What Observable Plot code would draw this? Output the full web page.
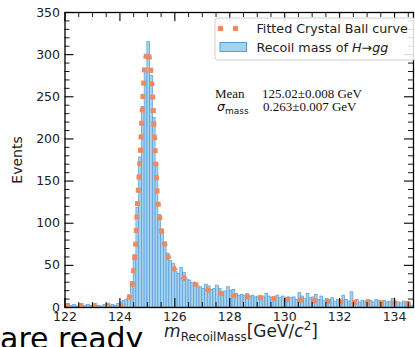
<!DOCTYPE html>
<html><head><meta charset="utf-8">
<script src="https://cdn.jsdelivr.net/npm/d3@7"></script>
<script src="https://cdn.jsdelivr.net/npm/@observablehq/plot@0.6"></script>
<style>html,body{margin:0;padding:0;overflow:hidden;background:#fff} svg{display:block}</style>
</head><body><div id="chart"></div>
<script>
// Histogram: bins of 0.1 GeV starting at 122.0 GeV
const binStart = 122.0;
const binWidth = 0.1;
const counts = [
  2,1,2,3,1,2,1,2,3,2, 1,2,2,1,3,2,2,3,2,4,
  6,8,9,14,30,62,118,178,238,280,
  315,275,225,170,110,88,74,64,55,52,
  42,40,47,41,33,32,29,27,25,24,
  22,27,25,21,22,26,22,18,19,24,
  20,21,16,14,15,14,16,13,14,12,
  13,11,12,16,13,11,12,14,11,13,
  10,12,11,12,9,17,13,10,16,11,
  12,15,9,13,8,10,9,11,7,9,
  8,14,9,7,18,8,9,6,8,7,
  9,8,6,9,8,7,8,6,7,10,
  7,6,5,7,6,4,2
];
// Fitted Crystal Ball curve
const curveMass   = [122.0,122.5,123.0,123.5,123.9,124.1,124.25,124.35,124.45,124.5,124.54,124.58,124.62,124.66,124.70,124.75,124.80,124.85,124.90,124.95,125.0,125.05,125.10,125.15,125.20,125.25,125.30,125.35,125.40,125.45,125.5,125.6,125.76,125.98,126.35,126.78,127.25,127.73,128.24,128.72,129.21,129.72,130.2,130.7,131.19,131.65,132.19,132.67,133.17,133.65,134.16,134.7];
const curveEvents = [2.5,2.5,2.5,2.4,2.2,2.0,5,13,27,44,60,80,110,135,157,189,226,258,284,298,305,300,288,270,246,206,174,140,121,106,94,79,60,46,34.6,27,20.4,16.5,13.5,12.5,11.5,10.3,9.5,8.5,7.9,7.1,6.4,5.9,5.6,5.3,5.0,4.7];

const xMajorTicks = [122,124,126,128,130,132,134];
const xMinorTicks = [122.5,123,123.5,124.5,125,125.5,126.5,127,127.5,128.5,129,129.5,130.5,131,131.5,132.5,133,133.5,134.5];
const yMajorTicks = [0,50,100,150,200,250,300,350];
const yMinorTicks = [10,20,30,40,60,70,80,90,110,120,130,140,160,170,180,190,210,220,230,240,260,270,280,290,310,320,330,340];

const legendLabels = ["Fitted Crystal Ball curve", "Recoil mass of "];
const statNames = ["Mean", "mass"];
const statValues = ["125.02±0.008 GeV", "0.263±0.007 GeV"];

const xMin = 122, xMax = 134.69, yMax = 350;
const W = 415, H = 347, mL = 64.5, mR = 2, mT = 12, mB = 40;
const kx = (xMax - xMin) / (W - mL - mR);
const ky = yMax / (H - mT - mB);

const bins = counts.map((n, i) => ({x1: binStart + i * binWidth, x2: binStart + (i + 1) * binWidth, n}));
const curve = curveMass.map((m, i) => ({m, v: curveEvents[i]}));

const orange = "#ec8a62";
const major = 9, minor = 5;

const chart = Plot.plot({
  width: W, height: H,
  marginLeft: mL, marginRight: mR, marginTop: mT, marginBottom: mB,
  x: {domain: [xMin, xMax]},
  y: {domain: [0, yMax]},
  style: {fontFamily: "DejaVu Sans", fontSize: "12px", color: "black", background: "white"},
  marks: [
    Plot.rectY(bins, {x1: "x1", x2: "x2", y: "n", fill: "#a3d3ef", stroke: "#5b9bd5", strokeWidth: 0.7, clip: true, insetLeft: 0, insetRight: 0}),
    Plot.line(curve, {x: "m", y: "v", stroke: orange, strokeWidth: 5, strokeDasharray: "5,8.4", strokeLinecap: "butt", curve: "monotone-x", clip: true}),
    Plot.frame({stroke: "black", strokeWidth: 1.3}),
    // inward ticks on all four sides
    Plot.ruleX(xMajorTicks, {x: d => d, y1: 0, y2: major * ky, stroke: "black", strokeWidth: 1.1}),
    Plot.ruleX(xMinorTicks, {x: d => d, y1: 0, y2: minor * ky, stroke: "black", strokeWidth: 0.9}),
    Plot.ruleX(xMajorTicks, {x: d => d, y1: yMax, y2: yMax - major * ky, stroke: "black", strokeWidth: 1.1}),
    Plot.ruleX(xMinorTicks, {x: d => d, y1: yMax, y2: yMax - minor * ky, stroke: "black", strokeWidth: 0.9}),
    Plot.ruleY(yMajorTicks, {y: d => d, x1: xMin, x2: xMin + major * kx, stroke: "black", strokeWidth: 1.1}),
    Plot.ruleY(yMinorTicks, {y: d => d, x1: xMin, x2: xMin + minor * kx, stroke: "black", strokeWidth: 0.9}),
    Plot.ruleY(yMajorTicks, {y: d => d, x1: xMax, x2: xMax - major * kx, stroke: "black", strokeWidth: 1.1}),
    Plot.ruleY(yMinorTicks, {y: d => d, x1: xMax, x2: xMax - minor * kx, stroke: "black", strokeWidth: 0.9}),
    Plot.axisX(xMajorTicks, {tickSize: 0, tickPadding: 5, label: null, fontSize: 12.5, fill: "#222"}),
    Plot.axisY(yMajorTicks, {tickSize: 0, tickPadding: 5, label: null, fontSize: 12.5, fill: "#222"})
  ]
});
document.getElementById("chart").appendChild(chart);

const svg = d3.select(chart);
// y label
svg.append("text").attr("transform", "translate(22,160) rotate(-90)")
  .attr("text-anchor", "middle").attr("font-family", "DejaVu Sans").attr("font-size", 14).attr("fill", "#222")
  .text("Events");
// x label
const xl = svg.append("text").attr("x", 241).attr("y", 337).attr("text-anchor", "middle")
  .attr("font-family", "DejaVu Sans").attr("font-size", 17).attr("fill", "#222");
xl.append("tspan").attr("font-style", "italic").text("m");
xl.append("tspan").attr("font-size", 12).attr("dy", 4).text("RecoilMass");
xl.append("tspan").attr("dy", -4).text("[GeV/");
xl.append("tspan").attr("font-style", "italic").text("c");
xl.append("tspan").attr("font-size", 12).attr("dy", -7).text("2");
xl.append("tspan").attr("dy", 7).text("]");
// slide text below
svg.append("text").attr("x", 0).attr("y", 349).attr("text-anchor", "start").attr("font-family", "DejaVu Sans").attr("font-size", 30).attr("fill", "black").text("are ready");

// legend
const lg = svg.append("g").attr("text-anchor", "start");
lg.append("rect").attr("x", 215).attr("y", 18).attr("width", 220).attr("height", 42).attr("rx", 3)
  .attr("fill", "white").attr("fill-opacity", 0.85).attr("stroke", "#d0d0d0").attr("stroke-width", 1);
lg.append("line").attr("x1", 218).attr("x2", 243).attr("y1", 28.5).attr("y2", 28.5)
  .attr("stroke", orange).attr("stroke-width", 5).attr("stroke-dasharray", "5,10");
lg.append("text").attr("x", 256.5).attr("y", 33).attr("font-family", "DejaVu Sans").attr("font-size", 12.7).attr("fill", "#222").text(legendLabels[0]);
lg.append("rect").attr("x", 220).attr("y", 42.5).attr("width", 26.5).attr("height", 9)
  .attr("fill", "#a3d3ef").attr("stroke", "#5b9bd5").attr("stroke-width", 1);
const l2 = lg.append("text").attr("x", 256.5).attr("y", 52).attr("font-family", "DejaVu Sans").attr("font-size", 12.7).attr("fill", "#222");
l2.append("tspan").text(legendLabels[1]);
l2.append("tspan").attr("font-style", "italic").text("H");
l2.append("tspan").text("→");
l2.append("tspan").attr("font-style", "italic").text("gg");

// fit statistics
const st = svg.append("g").attr("text-anchor", "start").attr("font-family", "Liberation Serif").attr("font-size", 13).attr("fill", "#111");
st.append("text").attr("x", 215).attr("y", 98).text(statNames[0]);
st.append("text").attr("x", 262).attr("y", 98).text(statValues[0]);
const s2 = st.append("text").attr("x", 217).attr("y", 110.5);
s2.append("tspan").attr("font-style", "italic").attr("font-family", "DejaVu Sans").attr("font-size", 12.5).text("σ");
s2.append("tspan").attr("font-family", "DejaVu Sans").attr("font-size", 9).attr("dy", 3).text(statNames[1]);
st.append("text").attr("x", 263).attr("y", 110.5).text(statValues[1]);
</script></body></html>
